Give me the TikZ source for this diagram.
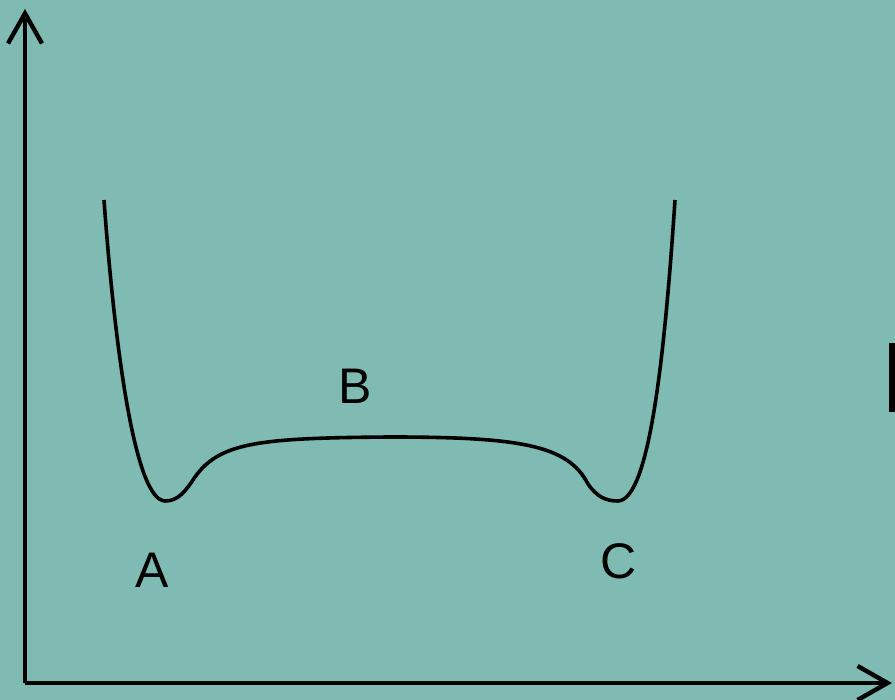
\documentclass[tikz,border=0pt]{standalone}
\usepackage{fontspec}
\setmainfont{Liberation Sans}
\usetikzlibrary{arrows.meta}
\definecolor{bgteal}{RGB}{127,187,179}

\begin{document}
\begin{tikzpicture}[x=1pt, y=-1pt,
  axis/.style={line width=4.4, -{Straight Barb[length=30, width=34, line width=4.4]}},
  lbl/.style={font=\fontsize{50}{60}\selectfont, inner sep=0}]
  \fill[bgteal] (0,0) rectangle (895,700);
  \useasboundingbox (0,0) rectangle (895,700);
  \coordinate (origin) at (25,683);
  \coordinate (ytip) at (25,9);
  \coordinate (xtip) at (892,683);
  \draw[axis] (origin) -- (ytip);
  \draw[axis] (origin) -- (xtip);
  \draw[line width=3.6] (104,200) .. controls (115,350) and (135,500) .. (165,501)
    .. controls (178,501) and (185,492) .. (195,477)
    .. controls (220,442) and (260,438) .. (390,437)
    .. controls (520,437) and (568,445) .. (588,484)
    .. controls (597,497) and (606,501) .. (618,501)
    .. controls (650,500) and (665,350) .. (675,200);
  \node[lbl] (A) at (152,570) {A};
  \node[lbl] (B) at (355,386) {B};
  \node[lbl] (C) at (619,561) {C};
  \fill (889,343) rectangle (895,412);
\end{tikzpicture}
\end{document}
